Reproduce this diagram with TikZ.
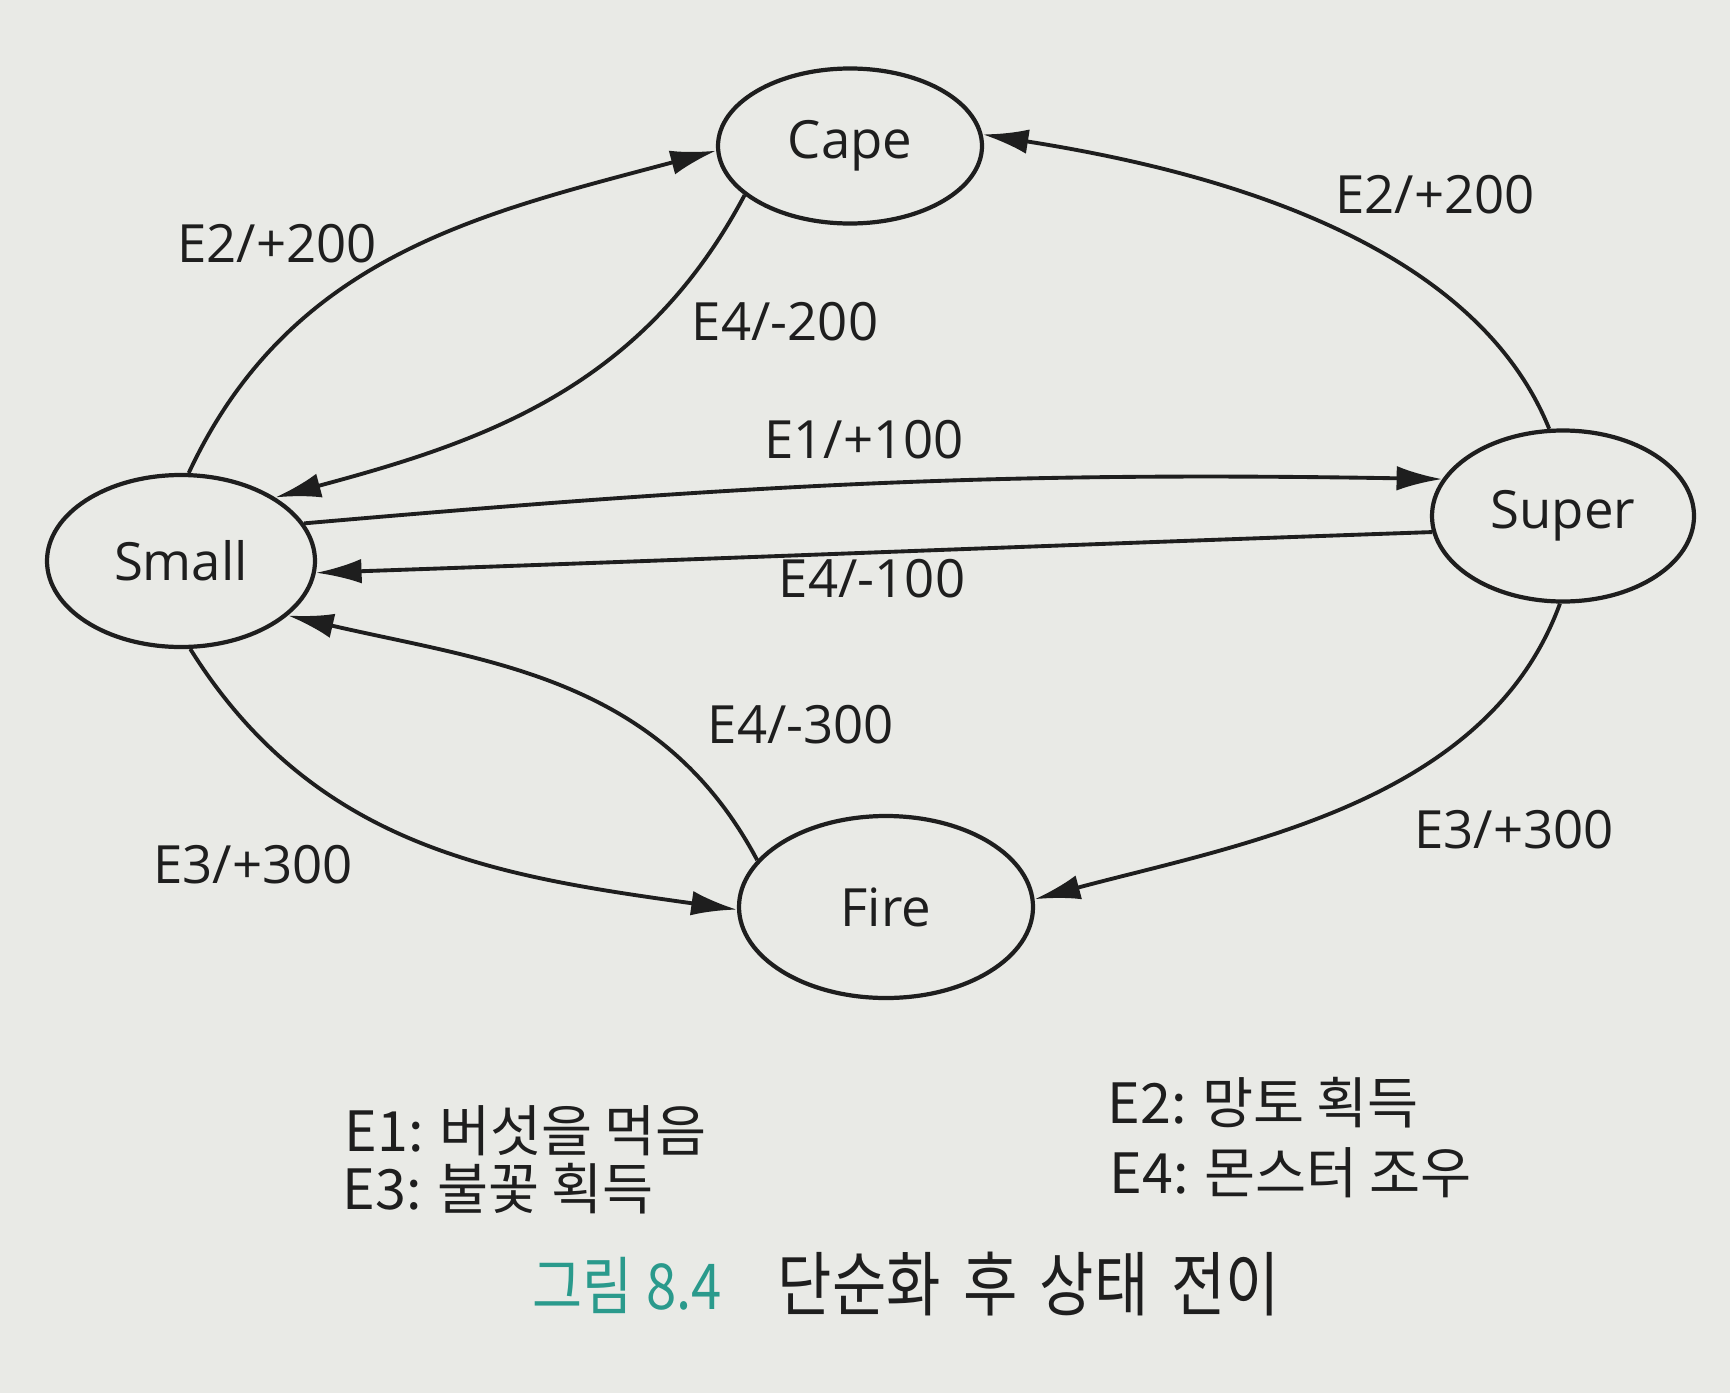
\documentclass[tikz,border=0pt]{standalone}
\usepackage{fontspec}
\setmainfont{Open Sans}
\newfontfamily\krfont[WordSpace=0.95]{Noto Sans CJK KR}
\newfontfamily\krnumber[FakeStretch=0.86,WordSpace=1.1]{Noto Sans CJK KR}
\newfontfamily\krcaption[FakeStretch=0.84,WordSpace=1.7]{Noto Sans CJK KR}
\usetikzlibrary{arrows.meta,shapes.geometric}

\definecolor{stateInk}{HTML}{1E1E1E}
\definecolor{statePaper}{HTML}{E9EAE6}
\definecolor{stateTeal}{HTML}{2A9A8C}

\tikzset{
  stateNode/.style={draw=stateInk,ellipse,line width=1.2pt,inner sep=0pt,
    text=stateInk,font=\fontsize{15}{18}\selectfont},
  edgeLabel/.style={inner sep=0pt,text=stateInk,font=\fontsize{15}{18}\selectfont},
  transition/.style={draw=stateInk,line width=1.1pt,-{Latex[length=13pt,width=7pt]}},
  legendText/.style={anchor=west,inner sep=0pt,text=stateInk,
    font=\krfont\fontsize{15.8}{19}\selectfont}
}

\begin{document}
\begin{tikzpicture}[x=0.1mm,y=0.1mm]
  \path[fill=statePaper] (0,0) rectangle (1730,-1393);
  \useasboundingbox (0,0) rectangle (1730,-1393);

  % states
  \foreach \name/\x/\y/\w/\h/\word in {
    small/181/-561/2.68/1.72/Small,
    cape/850/-146/2.64/1.55/Cape,
    super/1563/-516/2.62/1.71/Super,
    fire/886/-907/2.94/1.82/Fire
  }{
    \node[stateNode,minimum width=\w cm,minimum height=\h cm] (\name) at (\x,\y) {\word};
  }

  % transitions
  \foreach \src/\sa/\dst/\da/\ao/\ai/\lo in {
    small/85/cape/182/65/195/1,
    cape/205/small/34/242/15/1,
    super/99/cape/5/112/-9/0.85,
    small/17/super/163/5/179/1,
    super/187/small/-5/182/2/1,
    fire/160/small/-27/118/-13/1,
    small/-84/fire/181/-58/172/1,
    super/268/fire/3/250/15/0.9
  }{
    \draw[transition] (\src.\sa) to[out=\ao,in=\ai,looseness=\lo] (\dst.\da);
  }

  % edge labels
  \foreach \name/\x/\y/\txt in {
    lblCapeA/277/-244/{E2/+200},
    lblSmallA/785/-322/{E4/-200},
    lblCapeB/1435/-195/{E2/+200},
    lblSuperA/864/-440/{E1/+100},
    lblSmallB/872/-579/{E4/-100},
    lblSmallC/801/-725/{E4/-300},
    lblFireA/253/-865/{E3/+300},
    lblFireB/1514/-830/{E3/+300}
  }{
    \node[edgeLabel] (\name) at (\x,\y) {\txt};
  }

  % legend
  \node[legendText] (legendA) at (344,-1131) {E1: 버섯을 먹음};
  \node[legendText] (legendC) at (342,-1189) {E3: 불꽃 획득};
  \node[legendText] (legendB) at (1107,-1103) {E2: 망토 획득};
  \node[legendText] (legendD) at (1109,-1173) {E4: 몬스터 조우};

  % caption
  \node[anchor=west,inner sep=0pt,text=stateTeal,font=\krnumber\fontsize{18}{21}\selectfont]
    (capNum) at (532,-1285) {그림 8.4};
  \node[anchor=west,inner sep=0pt,text=stateInk,font=\krcaption\fontsize{20}{24}\selectfont]
    (capText) at (777,-1284) {단순화 후 상태 전이};
\end{tikzpicture}
\end{document}
